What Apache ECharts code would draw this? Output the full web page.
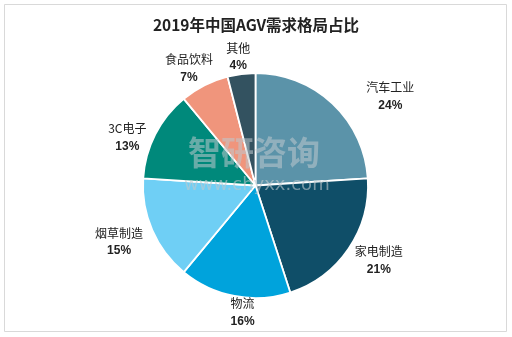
<!DOCTYPE html>
<html><head><meta charset="utf-8">
<script src="https://cdn.jsdelivr.net/npm/echarts@6/dist/echarts.min.js"></script>
<style>html,body{margin:0;padding:0;background:#fff}#c{width:512px;height:337px}</style>
</head><body><div id="c"></div>
<script>
const title = '2019年中国AGV需求格局占比';
const categories = ['汽车工业','家电制造','物流','烟草制造','3C电子','食品饮料','其他'];
const values = [24,21,16,15,13,7,4];
const colors = ['#5b93a9','#0f4e68','#00a3dc','#6fcff5','#00897b','#f0957c','#335260'];
const labelNudge = [[18,0],[-11,6],[43,7],[9,8],[14,8],[22,-8],[31,-7]];

const chart = echarts.init(document.getElementById('c'));
chart.setOption({
  backgroundColor:'#fff',
  animation:false,
  title:{text:title,left:'center',top:12,textStyle:{fontFamily:'Noto Sans CJK SC',fontSize:15.5,fontWeight:'bold',color:'#222'}},
  graphic:[
    {type:'rect',shape:{x:4.5,y:4.5,width:502,height:327},style:{fill:'none',stroke:'#d9d9d9',lineWidth:1},z:-1},
    {type:'text',left:188,top:136,style:{text:'智研咨询',font:'bold 33px "Noto Sans CJK SC"',fill:'rgba(190,200,205,0.55)'},z:100},
    {type:'text',left:184,top:176,style:{text:'www.chyxx.com',font:'18px "DejaVu Sans"',fill:'rgba(190,200,205,0.6)'},z:100}
  ],
  series:[{
    type:'pie',
    center:[255.5,185.5],
    radius:[0,112.5],
    startAngle:90,
    clockwise:true,
    avoidLabelOverlap:false,
    itemStyle:{borderColor:'#fff',borderWidth:1.8},
    label:{
      show:true,position:'outside',
      formatter:p=>'{n|'+p.name+'}\n{p|'+p.value+'%}',
      rich:{
        n:{fontFamily:'Noto Sans CJK SC',fontSize:12,color:'#222',width:56,align:'center',lineHeight:18},
        p:{fontFamily:'Liberation Sans',fontSize:12,fontWeight:'bold',color:'#222',width:56,align:'center',lineHeight:18}
      }
    },
    labelLine:{show:false,length:10,length2:0},
    labelLayout:p=>({dx:labelNudge[p.dataIndex][0],dy:labelNudge[p.dataIndex][1]}),
    data:categories.map((c,i)=>({name:c,value:values[i],itemStyle:{color:colors[i]}}))
  }]
});
</script></body></html>
